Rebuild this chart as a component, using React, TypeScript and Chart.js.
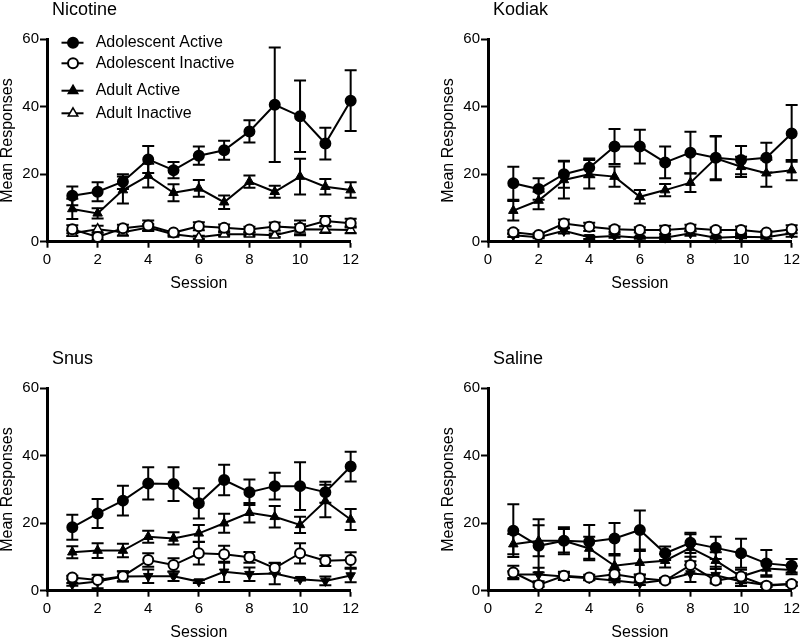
import React, { useEffect, useRef } from 'react';
import { Chart, registerables } from 'chart.js';

Chart.register(...registerables);

const sessions = [1, 2, 3, 4, 5, 6, 7, 8, 9, 10, 11, 12];
const seriesLabels = ['Adolescent Active', 'Adolescent Inactive', 'Adult Active', 'Adult Inactive'];
const panelTitles = ['Nicotine', 'Kodiak', 'Snus', 'Saline'];
const yAxisTitle = 'Mean Responses';
const xAxisTitle = 'Session';

// Nicotine
const nicAdolActive = [13.6, 14.8, 17.8, 24.4, 21.2, 25.5, 27.1, 32.7, 40.6, 37.2, 29.1, 41.8];
const nicAdolActiveErr = [2.8, 2.8, 2.2, 4.0, 2.4, 2.7, 2.8, 3.3, 17.0, 10.6, 4.7, 9.0];
const nicAdolInactive = [3.7, 1.4, 4.0, 4.8, 2.7, 4.6, 4.1, 3.6, 4.5, 4.1, 6.1, 5.5];
const nicAdolInactiveErr = [1.2, 0.8, 1.0, 1.5, 0.5, 1.2, 1.0, 0.8, 1.2, 2.2, 1.5, 1.3];
const nicAdultActive = [9.7, 8.4, 15.3, 19.6, 14.5, 15.8, 11.7, 17.8, 14.8, 19.3, 16.3, 15.3];
const nicAdultActiveErr = [3.0, 1.5, 4.0, 3.5, 2.5, 2.5, 2.0, 1.8, 1.8, 5.3, 2.3, 2.3];
const nicAdultInactive = [2.5, 3.7, 2.8, 4.2, 2.2, 1.3, 2.2, 2.2, 1.9, 3.7, 3.6, 3.5];
const nicAdultInactiveErr = [0.8, 1.0, 1.0, 1.0, 0.5, 0.5, 0.5, 0.5, 0.5, 1.5, 1.0, 1.0];

// Kodiak
const kodAdolActive = [17.3, 15.6, 20.0, 21.9, 28.2, 28.2, 23.5, 26.4, 24.9, 24.2, 24.9, 32.1];
const kodAdolActiveErr = [4.9, 3.2, 4.0, 2.8, 5.2, 5.0, 4.7, 6.2, 6.4, 4.2, 4.4, 8.4];
const kodAdolInactive = [2.8, 2.0, 5.4, 4.4, 3.7, 3.5, 3.5, 4.0, 3.5, 3.5, 2.7, 3.7];
const kodAdolInactiveErr = [0.6, 0.5, 1.2, 1.2, 0.8, 0.8, 1.2, 1.0, 0.7, 1.0, 0.5, 1.2];
const kodAdultActive = [9.2, 12.2, 18.3, 20.0, 19.3, 13.3, 15.3, 17.5, 24.7, 22.2, 20.3, 21.2];
const kodAdultActiveErr = [2.9, 2.6, 5.5, 4.2, 3.0, 2.0, 1.8, 2.8, 6.5, 3.0, 4.0, 3.0];
const kodAdultInactive = [1.9, 1.3, 3.2, 1.3, 1.7, 1.2, 1.2, 2.5, 1.2, 1.5, 1.3, 2.5];
const kodAdultInactiveErr = [0.5, 0.3, 0.8, 0.5, 0.5, 0.3, 0.4, 0.7, 0.3, 0.5, 0.4, 1.0];

// Snus
const snuAdolActive = [18.8, 22.9, 26.7, 31.8, 31.6, 25.9, 32.8, 29.2, 31.0, 31.0, 29.2, 36.8];
const snuAdolActiveErr = [3.7, 4.3, 4.4, 4.8, 5.0, 4.5, 4.5, 3.8, 4.0, 7.1, 3.1, 4.4];
const snuAdolInactive = [3.9, 3.2, 4.3, 9.1, 7.6, 11.1, 10.8, 9.9, 6.7, 11.1, 8.9, 9.1];
const snuAdolInactiveErr = [0.5, 0.5, 1.5, 2.0, 2.0, 3.3, 2.5, 1.6, 1.5, 3.0, 1.6, 2.3];
const snuAdultActive = [11.4, 11.9, 11.9, 16.0, 15.5, 17.0, 20.0, 23.1, 21.9, 19.5, 26.6, 21.1];
const snuAdultActiveErr = [1.8, 2.2, 2.0, 1.8, 1.8, 2.5, 2.8, 2.9, 3.2, 2.4, 4.8, 3.1];
const snuAdultInactive = [1.9, 2.7, 4.2, 4.3, 4.3, 2.7, 5.6, 4.9, 5.1, 3.4, 2.9, 4.5];
const snuAdultInactiveErr = [0.4, 2.0, 1.5, 2.0, 1.4, 0.4, 3.0, 2.0, 3.2, 0.4, 1.3, 2.0];

// Saline
const salAdolActive = [17.8, 13.3, 14.8, 14.5, 15.5, 18.0, 11.1, 14.2, 12.7, 11.1, 8.1, 7.4];
const salAdolActiveErr = [7.8, 7.9, 4.0, 5.0, 4.6, 5.8, 2.0, 3.0, 3.3, 4.3, 4.0, 2.0];
const salAdolInactive = [5.4, 1.7, 4.4, 3.9, 4.9, 3.7, 3.0, 7.6, 3.0, 4.2, 1.5, 2.0];
const salAdolInactiveErr = [2.0, 0.5, 1.2, 0.8, 1.2, 1.0, 0.6, 2.5, 0.6, 1.0, 0.4, 0.5];
const salAdultActive = [13.8, 14.8, 14.8, 12.5, 7.4, 8.3, 8.9, 12.7, 8.9, 4.2, 6.6, 6.1];
const salAdultActiveErr = [3.0, 4.6, 3.5, 3.5, 3.0, 3.5, 2.0, 4.0, 2.5, 2.0, 2.0, 1.2];
const salAdultInactive = [4.8, 4.8, 4.2, 3.7, 3.0, 2.2, 3.2, 5.1, 4.6, 2.7, 1.7, 2.0];
const salAdultInactiveErr = [1.0, 2.0, 1.0, 0.5, 0.5, 0.5, 0.5, 2.5, 2.5, 1.3, 0.5, 0.5];

const FONT = '"Liberation Sans", Arial, Helvetica, sans-serif';
const CANVAS_W = 362;
const CANVAS_H = 300;

type Series = { values: number[]; errors: number[] };

function buildDatasets(series: Series[], openAdultInactive: boolean) {
  const styles = [
    { pointStyle: 'circle', bg: '#000', rotation: 0, radius: 5, bw: 2 },
    { pointStyle: 'circle', bg: '#fff', rotation: 0, radius: 5, bw: 2 },
    { pointStyle: 'triangle', bg: '#000', rotation: 0, radius: 5.5, bw: 1 },
    openAdultInactive
      ? { pointStyle: 'triangle', bg: '#fff', rotation: 0, radius: 5.5, bw: 1.5 }
      : { pointStyle: 'triangle', bg: '#000', rotation: 180, radius: 5.5, bw: 1 },
  ];
  return series.map((s, i) => ({
    label: seriesLabels[i],
    data: sessions.map((x, j) => ({ x, y: s.values[j] })),
    errors: s.errors,
    borderColor: '#000',
    borderWidth: 2,
    pointStyle: styles[i].pointStyle,
    pointRotation: styles[i].rotation,
    pointRadius: styles[i].radius,
    pointBackgroundColor: styles[i].bg,
    pointBorderColor: '#000',
    pointBorderWidth: styles[i].bw,
    tension: 0,
    clip: false,
    fill: false,
  }));
}

const errorBarPlugin = {
  id: 'errorBars',
  beforeDatasetsDraw(chart: any) {
    const { ctx } = chart;
    const y = chart.scales.y;
    ctx.save();
    ctx.strokeStyle = '#000';
    ctx.lineWidth = 2;
    chart.data.datasets.forEach((ds: any, i: number) => {
      const meta = chart.getDatasetMeta(i);
      if (!ds.errors) return;
      meta.data.forEach((pt: any, j: number) => {
        const v = ds.data[j].y;
        const e = ds.errors[j];
        const x = pt.x;
        const yTop = y.getPixelForValue(v + e);
        const yBot = y.getPixelForValue(Math.max(v - e, 0));
        ctx.beginPath();
        ctx.moveTo(x, yTop);
        ctx.lineTo(x, yBot);
        ctx.moveTo(x - 6, yTop);
        ctx.lineTo(x + 6, yTop);
        ctx.moveTo(x - 6, yBot);
        ctx.lineTo(x + 6, yBot);
        ctx.stroke();
      });
    });
    ctx.restore();
  },
};

function drawMarker(ctx: CanvasRenderingContext2D, kind: string, x: number, y: number, fill: string) {
  ctx.beginPath();
  if (kind === 'circle') {
    ctx.arc(x, y, 5, 0, Math.PI * 2);
  } else {
    const r = 5.5;
    ctx.moveTo(x, y - r);
    ctx.lineTo(x + r * 0.866, y + r * 0.5);
    ctx.lineTo(x - r * 0.866, y + r * 0.5);
    ctx.closePath();
  }
  ctx.fillStyle = fill;
  ctx.fill();
  ctx.lineWidth = kind === 'circle' ? 2 : 1.5;
  ctx.strokeStyle = '#000';
  ctx.stroke();
}

function Panel(props: { title: string; series: Series[]; left: number; top: number; legend: boolean }) {
  const ref = useRef<HTMLCanvasElement | null>(null);
  useEffect(() => {
    if (!ref.current) return;
    const { title, series, legend } = props;
    const titlePlugin = {
      id: 'panelTitle',
      afterDraw(chart: any) {
        const { ctx, chartArea } = chart;
        ctx.save();
        ctx.font = `18px ${FONT}`;
        ctx.fillStyle = '#000';
        ctx.textAlign = 'left';
        ctx.textBaseline = 'alphabetic';
        ctx.fillText(title, chartArea.left + 5, 15);
        ctx.restore();
      },
    };
    const legendPlugin = {
      id: 'panelLegend',
      afterDraw(chart: any) {
        if (!legend) return;
        const { ctx, chartArea } = chart;
        const offs = [3.4, 24, 51.4, 74];
        const kinds = [
          ['circle', '#000'],
          ['circle', '#fff'],
          ['triangle', '#000'],
          ['triangle', '#fff'],
        ];
        ctx.save();
        seriesLabels.forEach((lab, i) => {
          const yy = chartArea.top + offs[i];
          const x0 = chartArea.left + 14.5;
          ctx.beginPath();
          ctx.moveTo(x0, yy);
          ctx.lineTo(x0 + 22, yy);
          ctx.lineWidth = 2;
          ctx.strokeStyle = '#000';
          ctx.stroke();
          drawMarker(ctx, kinds[i][0], x0 + 11.5, yy, kinds[i][1]);
          ctx.font = `16px ${FONT}`;
          ctx.fillStyle = '#000';
          ctx.textAlign = 'left';
          ctx.textBaseline = 'middle';
          ctx.fillText(lab, chartArea.left + 48.7, yy);
        });
        ctx.restore();
      },
    };
    const chart = new Chart(ref.current, {
      type: 'line',
      data: { datasets: buildDatasets(series, legend) as any },
      options: {
        animation: false,
        responsive: false,
        devicePixelRatio: 1,
        layout: { padding: { left: 0, top: 39.3, right: CANVAS_W - 350.7, bottom: CANVAS_H - 241.7 - 49.6 } },
        plugins: { legend: { display: false }, title: { display: false }, tooltip: { enabled: false } },
        scales: {
          x: {
            type: 'linear',
            min: 0,
            max: 12,
            afterFit: (s: any) => { s.height = 49.6; },
            border: { display: true, color: '#000', width: 3 },
            grid: { display: true, drawOnChartArea: false, drawTicks: true, tickLength: 6, tickWidth: 2, color: '#000', tickColor: '#000' },
            ticks: { stepSize: 2, color: '#000', font: { family: FONT, size: 15 }, padding: 3, maxRotation: 0 },
            title: { display: true, text: xAxisTitle, color: '#000', font: { family: FONT, size: 16, lineHeight: 1 }, padding: 0 },
          },
          y: {
            type: 'linear',
            min: 0,
            max: 60,
            afterFit: (s: any) => { s.width = 47; },
            border: { display: true, color: '#000', width: 3 },
            grid: { display: true, drawOnChartArea: false, drawTicks: true, tickLength: 7, tickWidth: 2, color: '#000', tickColor: '#000' },
            ticks: { stepSize: 20, color: '#000', font: { family: FONT, size: 15 }, padding: 1 },
            title: { display: true, text: yAxisTitle, color: '#000', font: { family: FONT, size: 16, lineHeight: 1 }, padding: 0 },
          },
        },
      } as any,
      plugins: [errorBarPlugin, titlePlugin, legendPlugin],
    });
    return () => chart.destroy();
  }, []);
  return (
    <canvas
      ref={ref}
      width={CANVAS_W}
      height={CANVAS_H}
      style={{ position: 'absolute', left: props.left, top: props.top, width: CANVAS_W, height: CANVAS_H }}
    />
  );
}

const panels = [
  {
    title: panelTitles[0], left: 0, top: 0, legend: true,
    series: [
      { values: nicAdolActive, errors: nicAdolActiveErr },
      { values: nicAdolInactive, errors: nicAdolInactiveErr },
      { values: nicAdultActive, errors: nicAdultActiveErr },
      { values: nicAdultInactive, errors: nicAdultInactiveErr },
    ],
  },
  {
    title: panelTitles[1], left: 441.3, top: 0, legend: false,
    series: [
      { values: kodAdolActive, errors: kodAdolActiveErr },
      { values: kodAdolInactive, errors: kodAdolInactiveErr },
      { values: kodAdultActive, errors: kodAdultActiveErr },
      { values: kodAdultInactive, errors: kodAdultInactiveErr },
    ],
  },
  {
    title: panelTitles[2], left: 0, top: 349, legend: false,
    series: [
      { values: snuAdolActive, errors: snuAdolActiveErr },
      { values: snuAdolInactive, errors: snuAdolInactiveErr },
      { values: snuAdultActive, errors: snuAdultActiveErr },
      { values: snuAdultInactive, errors: snuAdultInactiveErr },
    ],
  },
  {
    title: panelTitles[3], left: 441.3, top: 349, legend: false,
    series: [
      { values: salAdolActive, errors: salAdolActiveErr },
      { values: salAdolInactive, errors: salAdolInactiveErr },
      { values: salAdultActive, errors: salAdultActiveErr },
      { values: salAdultInactive, errors: salAdultInactiveErr },
    ],
  },
];

export default function App() {
  return (
    <div
      style={{
        position: 'absolute', left: 0, top: 0, width: 800, height: 638,
        overflow: 'hidden', background: '#fff', fontFamily: FONT,
      }}
    >
      {panels.map((p) => (
        <Panel key={p.title} title={p.title} series={p.series} left={p.left} top={p.top} legend={p.legend} />
      ))}
    </div>
  );
}
